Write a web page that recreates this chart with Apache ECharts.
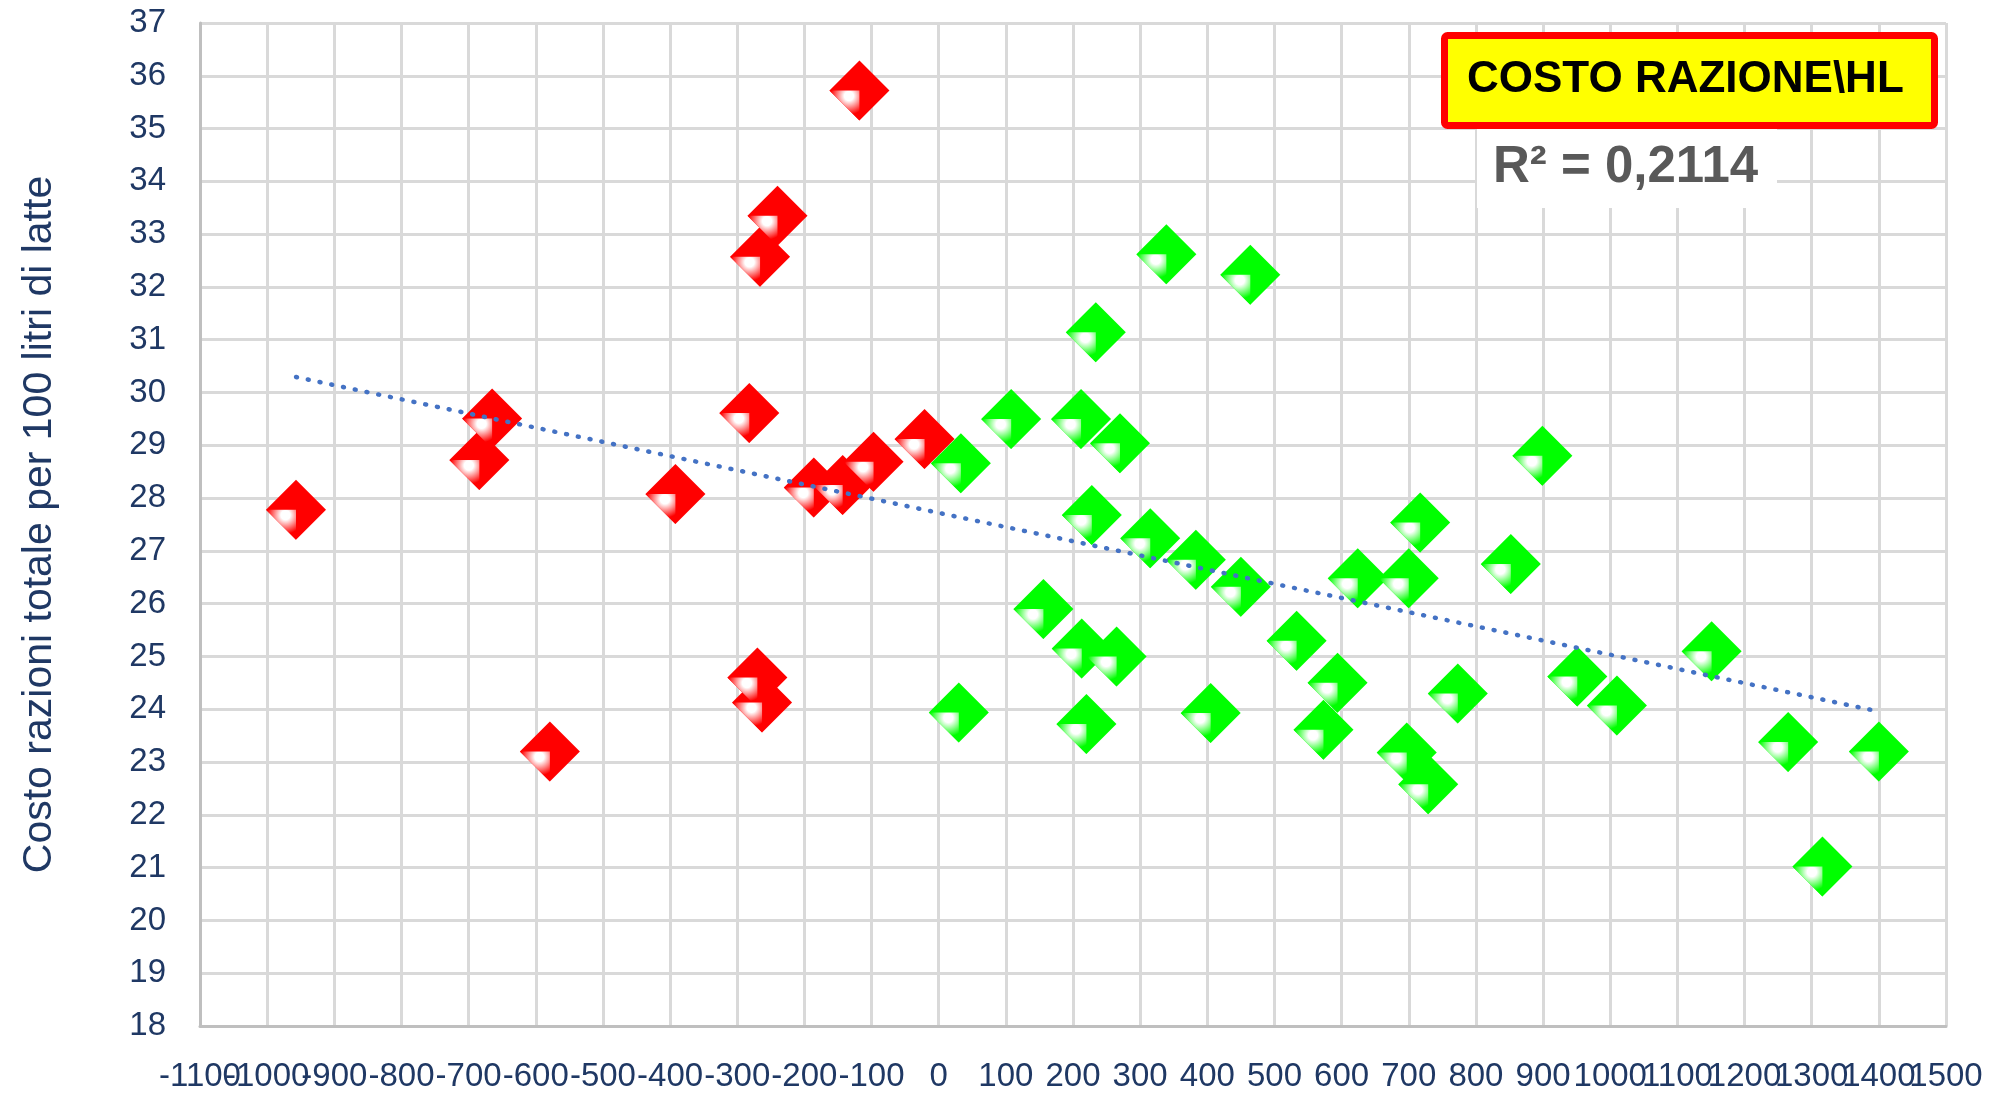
<!doctype html>
<html lang="it">
  <head>
    <meta charset="UTF-8" />
    <title>Costo razione HL</title>
    <script src="https://fastly.jsdelivr.net/npm/echarts@6/dist/echarts.min.js"></script>
    <style>
      * { margin: 0; padding: 0; }
      html, body, #chart { width: 100%; height: 100%; overflow: hidden; background: #fff; }
    </style>
  </head>
  <body>
    <div id="chart"></div>
    <script>
      // aziende sotto la media (rosso) e sopra (verde)
      const redX = [-957, -665, -684, -579, -392, -282, -240, -266, -270, -263, -143, -186, -97, -118, -21];
      const redY = [27.78, 29.51, 28.72, 23.2, 28.08, 29.61, 33.35, 32.57, 24.6, 24.13, 28.25, 28.2, 28.69, 35.72, 29.12];
      const greenX = [33, 30, 108, 156, 212, 234, 228, 213, 220, 270, 265, 339, 315, 383, 405, 450, 464, 533,
        573, 594, 624, 700, 697, 729, 717, 773, 852, 899, 951, 1010, 1151, 1265, 1316, 1400];
      const greenY = [28.66, 23.94, 29.5, 25.9, 29.5, 31.14, 27.68, 25.15, 23.72, 29.04, 25.0, 32.62, 27.24, 26.83,
        23.93, 26.32, 32.23, 25.3, 23.61, 24.5, 26.48, 26.48, 23.18, 22.58, 27.54, 24.3, 26.75, 28.8, 24.62,
        24.07, 25.1, 23.38, 21.02, 23.2];
      // x tick labels split in two rows of the same axis so none gets dropped
      const xLabelsEven = [-1100, -900, -700, -500, -300, -100, 100, 300, 500, 700, 900, 1100, 1300, 1500];
      const xLabelsOdd = [-1000, -800, -600, -400, -200, 0, 200, 400, 600, 800, 1000, 1200, 1400];
      const yTitle = 'Costo razioni totale per 100 litri di latte';
      const boxTitle = 'COSTO RAZIONE\\HL';
      const r2Label = 'R² = 0,2114';

      const font = "'Liberation Sans', Arial, sans-serif";
      const navy = '#1F3864';

      const pairs = (xs, ys) => xs.map((x, i) => [x, ys[i]]);
      const redData = pairs(redX, redY);
      const greenData = pairs(greenX, greenY);

      // linear trend over all points
      const all = redData.concat(greenData);
      const n = all.length;
      const mx = all.reduce((s, p) => s + p[0], 0) / n;
      const my = all.reduce((s, p) => s + p[1], 0) / n;
      let sxy = 0, sxx = 0;
      all.forEach((p) => { sxy += (p[0] - mx) * (p[1] - my); sxx += (p[0] - mx) * (p[0] - mx); });
      const b = sxy / sxx;
      const a = my - b * mx;
      const xMin = Math.min(...all.map((p) => p[0]));
      const xMax = Math.max(...all.map((p) => p[0]));
      const trend = [[xMin, a + b * xMin], [xMax, a + b * xMax]];

      // lower-left bevel of the excel diamond marker
      const facet = 'path://M0,0L10,0L10,10Z';
      function shade(base) {
        return new echarts.graphic.RadialGradient(0.65, 0.18, 0.62, [
          { offset: 0, color: '#ffffff' },
          { offset: 0.25, color: '#ffffff' },
          { offset: 1, color: base }
        ]);
      }
      function diamonds(data, color) {
        return [
          {
            type: 'scatter', xAxisIndex: 0, data: data, symbol: 'diamond', symbolSize: 60,
            itemStyle: { color: color, opacity: 1 }, silent: true, z: 2
          },
          {
            type: 'scatter', xAxisIndex: 0, data: data, symbol: facet, symbolSize: [30, 30], symbolOffset: [-15, 15],
            itemStyle: { color: shade(color), opacity: 1 }, silent: true, z: 2
          }
        ];
      }

      const labelStyle = {
        color: navy, fontFamily: font, fontSize: 33, margin: 34,
        hideOverlap: false, formatter: (v) => String(v)
      };

      const chart = echarts.init(document.getElementById('chart'));
      chart.setOption({
        backgroundColor: '#ffffff',
        animation: false,
        grid: { left: 200, right: 57, top: 23, bottom: 67, outerBoundsMode: 'none' },
        xAxis: [
          {
            type: 'value', min: -1100, max: 1500, interval: 100, position: 'bottom',
            axisLine: { show: true, onZero: false, lineStyle: { color: '#BFBFBF', width: 3 } },
            axisTick: { show: false },
            axisLabel: Object.assign({}, labelStyle, { customValues: xLabelsEven }),
            splitLine: { show: true, lineStyle: { color: '#D9D9D9', width: 3 } }
          },
          {
            type: 'value', min: -1100, max: 1500, interval: 100, position: 'bottom', offset: 0,
            axisLine: { show: false, onZero: false },
            axisTick: { show: false },
            axisLabel: Object.assign({}, labelStyle, { customValues: xLabelsOdd }),
            splitLine: { show: false }
          }
        ],
        yAxis: {
          type: 'value', min: 18, max: 37, interval: 1,
          name: yTitle, nameLocation: 'middle', nameRotate: 90, nameGap: 140,
          nameTextStyle: { color: navy, fontFamily: font, fontSize: 41 },
          axisLine: { show: true, onZero: false, lineStyle: { color: '#BFBFBF', width: 3 } },
          axisTick: { show: false },
          axisLabel: { color: navy, fontFamily: font, fontSize: 33, margin: 34, showMinLabel: true, showMaxLabel: true },
          splitLine: { show: true, lineStyle: { color: '#D9D9D9', width: 3 } }
        },
        series: [
          ...diamonds(redData, '#FF0000'),
          ...diamonds(greenData, '#00FF00'),
          {
            type: 'line', xAxisIndex: 0, data: trend, showSymbol: false, silent: true, z: 5,
            lineStyle: { color: '#4472C4', width: 4.5, type: [1, 11], cap: 'round' }
          }
        ],
        graphic: [
          {
            type: 'rect', z: 100, left: 1477, top: 123,
            shape: { width: 300, height: 85 }, style: { fill: '#ffffff' }
          },
          {
            type: 'text', z: 101, left: 1493, top: 142,
            style: { text: r2Label, fill: '#595959', font: "bold 51px 'Liberation Sans', Arial, sans-serif" }
          },
          {
            type: 'rect', z: 100, left: 1441, top: 32,
            shape: { width: 490, height: 90, r: 3 },
            style: { fill: '#FFFF00', stroke: '#FF0000', lineWidth: 7 }
          },
          {
            type: 'text', z: 101, left: 1467, top: 58,
            style: { text: boxTitle, fill: '#000000', font: "bold 44px 'Liberation Sans', Arial, sans-serif" }
          }
        ]
      });
    </script>
  </body>
</html>
